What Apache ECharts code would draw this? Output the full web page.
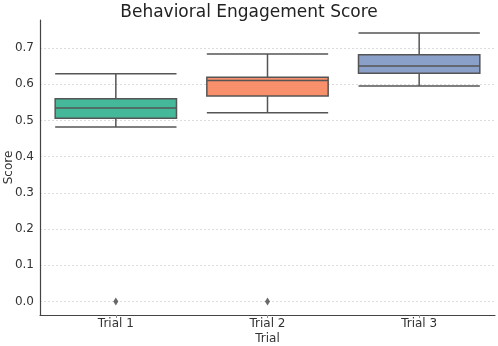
<!DOCTYPE html>
<html><head><meta charset="utf-8">
<script src="https://cdn.jsdelivr.net/npm/echarts@6/dist/echarts.min.js"></script>
<style>html,body{margin:0;padding:0;background:#fff}#c{width:498px;height:346px}</style>
</head><body><div id="c"></div>
<script>
const categories = ['Trial 1', 'Trial 2', 'Trial 3'];
// [lower whisker, Q1, median, Q3, upper whisker]
const trial1 = [0.482, 0.506, 0.534, 0.560, 0.629];
const trial2 = [0.521, 0.567, 0.610, 0.619, 0.683];
const trial3 = [0.595, 0.630, 0.650, 0.681, 0.741];
const outliers = [['Trial 1', 0.0], ['Trial 2', 0.0]];
const boxColors = ['#45b899', '#f8906c', '#8ba0c9'];
const yMin = -0.037, yMax = 0.777;

const chart = echarts.init(document.getElementById('c'), null, {renderer: 'canvas'});
const font = 'DejaVu Sans';
chart.setOption({
  animation: false,
  title: {text: 'Behavioral Engagement Score', left: 'center', top: -1,
    textStyle: {fontFamily: font, fontSize: 17, fontWeight: 'normal', color: '#222'}},
  grid: {left: 40, right: 3, top: 20, bottom: 31, containLabel: false, outerBoundsMode: 'none'},
  xAxis: {type: 'category', data: categories, boundaryGap: true,
    name: 'Trial', nameLocation: 'middle', nameGap: 18, nameMoveOverlap: false,
    nameTextStyle: {fontFamily: font, fontSize: 12, color: '#333', verticalAlign: 'top'},
    axisLine: {onZero: false, lineStyle: {color: '#444', width: 1.2}},
    axisTick: {show: true, alignWithLabel: true, length: 3, lineStyle: {color: '#888'}},
    axisLabel: {fontFamily: font, fontSize: 12, color: '#333', margin: 3},
    splitLine: {show: false}},
  yAxis: {type: 'value', min: yMin, max: yMax, splitNumber: 8,
    name: 'Score', nameLocation: 'middle', nameGap: 25, nameMoveOverlap: false,
    nameTextStyle: {fontFamily: font, fontSize: 12, color: '#333'},
    axisLine: {show: true, lineStyle: {color: '#444', width: 1.2}},
    axisTick: {show: false},
    axisLabel: {fontFamily: font, fontSize: 12, color: '#333', margin: 6, showMinLabel: false, showMaxLabel: false,
      formatter: v => v.toFixed(1)},
    splitLine: {show: true, showMinLine: false, showMaxLine: false,
      lineStyle: {color: '#d4d4d4', type: [2, 2], width: 0.8}}},
  series: [
    {type: 'boxplot', boxWidth: ['80%', '80%'],
      data: [trial1, trial2, trial3].map((d, i) => ({value: d,
        itemStyle: {color: boxColors[i], borderColor: '#555', borderWidth: 1.5}})),
      emphasis: {disabled: true}},
    {type: 'scatter', data: outliers, symbol: 'diamond', symbolSize: [5, 8],
      itemStyle: {color: '#444'}}
  ]
});
</script></body></html>
